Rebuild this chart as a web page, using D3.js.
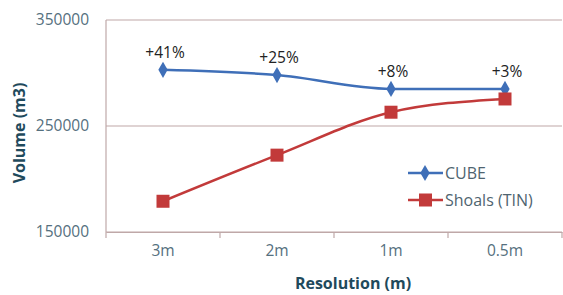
<!DOCTYPE html>
<html>
<head>
<meta charset="utf-8">
<script src="https://cdn.jsdelivr.net/npm/d3@7"></script>
<style>
body { margin: 0; background: #fff; }
svg { display: block; font-family: "Open Sans", "Noto Sans", sans-serif; }
</style>
</head>
<body>
<div id="chart"></div>
<script>
// data
const resolutions = ["3m", "2m", "1m", "0.5m"];
const cubeVals = [303000, 298000, 285000, 285000];
const shoalsVals = [179000, 222500, 263000, 275500];
const diffLabels = ["+41%", "+25%", "+8%", "+3%"];
const yTicks = [150000, 250000, 350000];

const W = 563, H = 295;
const plotL = 106, plotR = 562, plotT = 20, plotB = 232;

const svg = d3.select("#chart").append("svg")
    .attr("width", W).attr("height", H);

const x = d3.scaleBand().domain(resolutions).range([plotL, plotR]);
const y = d3.scaleLinear().domain([150000, 350000]).range([plotB, plotT]);

const gridCol = "#bfa8a8";
const tickCol = "#55707e";

// horizontal grid lines
svg.append("g").selectAll("line")
    .data(yTicks)
    .enter().append("line")
    .attr("x1", plotL).attr("x2", plotR)
    .attr("y1", d => y(d)).attr("y2", d => y(d))
    .attr("stroke", gridCol).attr("stroke-width", 1.2);

// left axis line
svg.append("line")
    .attr("x1", plotL).attr("x2", plotL)
    .attr("y1", plotT).attr("y2", plotB)
    .attr("stroke", gridCol).attr("stroke-width", 1.2);

// x axis
const xAxis = svg.append("g")
    .attr("transform", `translate(0,${plotB})`)
    .call(d3.axisBottom(x).tickSize(0).tickPadding(13));
xAxis.select(".domain").attr("stroke", gridCol).attr("stroke-width", 1.2);
xAxis.selectAll("text").attr("font-size", 15.5).attr("fill", tickCol)
    .attr("font-family", "Open Sans, Noto Sans, sans-serif");
// category boundary tick marks
svg.append("g").selectAll("line")
    .data(resolutions.concat(["end"]))
    .enter().append("line")
    .attr("x1", (d, i) => i < resolutions.length ? x(d) : plotR)
    .attr("x2", (d, i) => i < resolutions.length ? x(d) : plotR)
    .attr("y1", plotB).attr("y2", plotB + 6)
    .attr("stroke", gridCol).attr("stroke-width", 1.2);

// y axis labels
svg.append("g").selectAll("text")
    .data(yTicks)
    .enter().append("text")
    .attr("x", 89)
    .attr("y", d => y(d) + 5)
    .attr("text-anchor", "end")
    .attr("font-size", 15.5)
    .attr("fill", tickCol)
    .text(d => d);

const cx = d => x(d) + x.bandwidth() / 2;
const line = d3.line()
    .x((d, i) => cx(resolutions[i]))
    .y(d => y(d))
    .curve(d3.curveMonotoneX);

const blue = "#3f6fb8", red = "#c23a3a";

svg.append("path").datum(cubeVals)
    .attr("d", line).attr("fill", "none")
    .attr("stroke", blue).attr("stroke-width", 2.5);
svg.append("path").datum(shoalsVals)
    .attr("d", line).attr("fill", "none")
    .attr("stroke", red).attr("stroke-width", 2.5);

const diamond = d3.symbol().type(d3.symbolDiamond).size(75);

svg.append("g").selectAll("path")
    .data(cubeVals)
    .enter().append("path")
    .attr("d", diamond)
    .attr("transform", (d, i) => `translate(${cx(resolutions[i])},${y(d)})`)
    .attr("fill", blue);

svg.append("g").selectAll("rect")
    .data(shoalsVals)
    .enter().append("rect")
    .attr("x", (d, i) => cx(resolutions[i]) - 6.5)
    .attr("y", d => y(d) - 6.5)
    .attr("width", 13).attr("height", 13)
    .attr("fill", red);

// percentage labels
svg.append("g").selectAll("text")
    .data(cubeVals)
    .enter().append("text")
    .attr("x", (d, i) => cx(resolutions[i]) + 2)
    .attr("y", d => y(d) - 12)
    .attr("text-anchor", "middle")
    .attr("font-size", 15.5)
    .attr("fill", "#222")
    .text((d, i) => diffLabels[i]);

// legend
const legend = [
    { name: "CUBE", col: blue, mark: "diamond", ly: 173 },
    { name: "Shoals (TIN)", col: red, mark: "square", ly: 200 }
];
legend.forEach(l => {
    svg.append("line")
        .attr("x1", 408).attr("x2", 443)
        .attr("y1", l.ly).attr("y2", l.ly)
        .attr("stroke", l.col).attr("stroke-width", 2.5);
    if (l.mark === "diamond") {
        svg.append("path").attr("d", diamond)
            .attr("transform", `translate(425,${l.ly})`)
            .attr("fill", l.col);
    } else {
        svg.append("rect")
            .attr("x", 419).attr("y", l.ly - 6.5)
            .attr("width", 13).attr("height", 13)
            .attr("fill", l.col);
    }
    svg.append("text")
        .attr("x", 445).attr("y", l.ly + 6)
        .attr("font-size", 16)
        .attr("fill", "#4f6470")
        .text(l.name);
});

// axis titles
svg.append("text")
    .attr("transform", "translate(25,133) rotate(-90)")
    .attr("text-anchor", "middle")
    .attr("font-size", 16)
    .attr("font-weight", "bold")
    .attr("fill", "#1f4a5c")
    .text("Volume (m3)");

svg.append("text")
    .attr("x", 353)
    .attr("y", 289)
    .attr("text-anchor", "middle")
    .attr("font-size", 16)
    .attr("font-weight", "bold")
    .attr("fill", "#1f4a5c")
    .text("Resolution (m)");
</script>
</body>
</html>
